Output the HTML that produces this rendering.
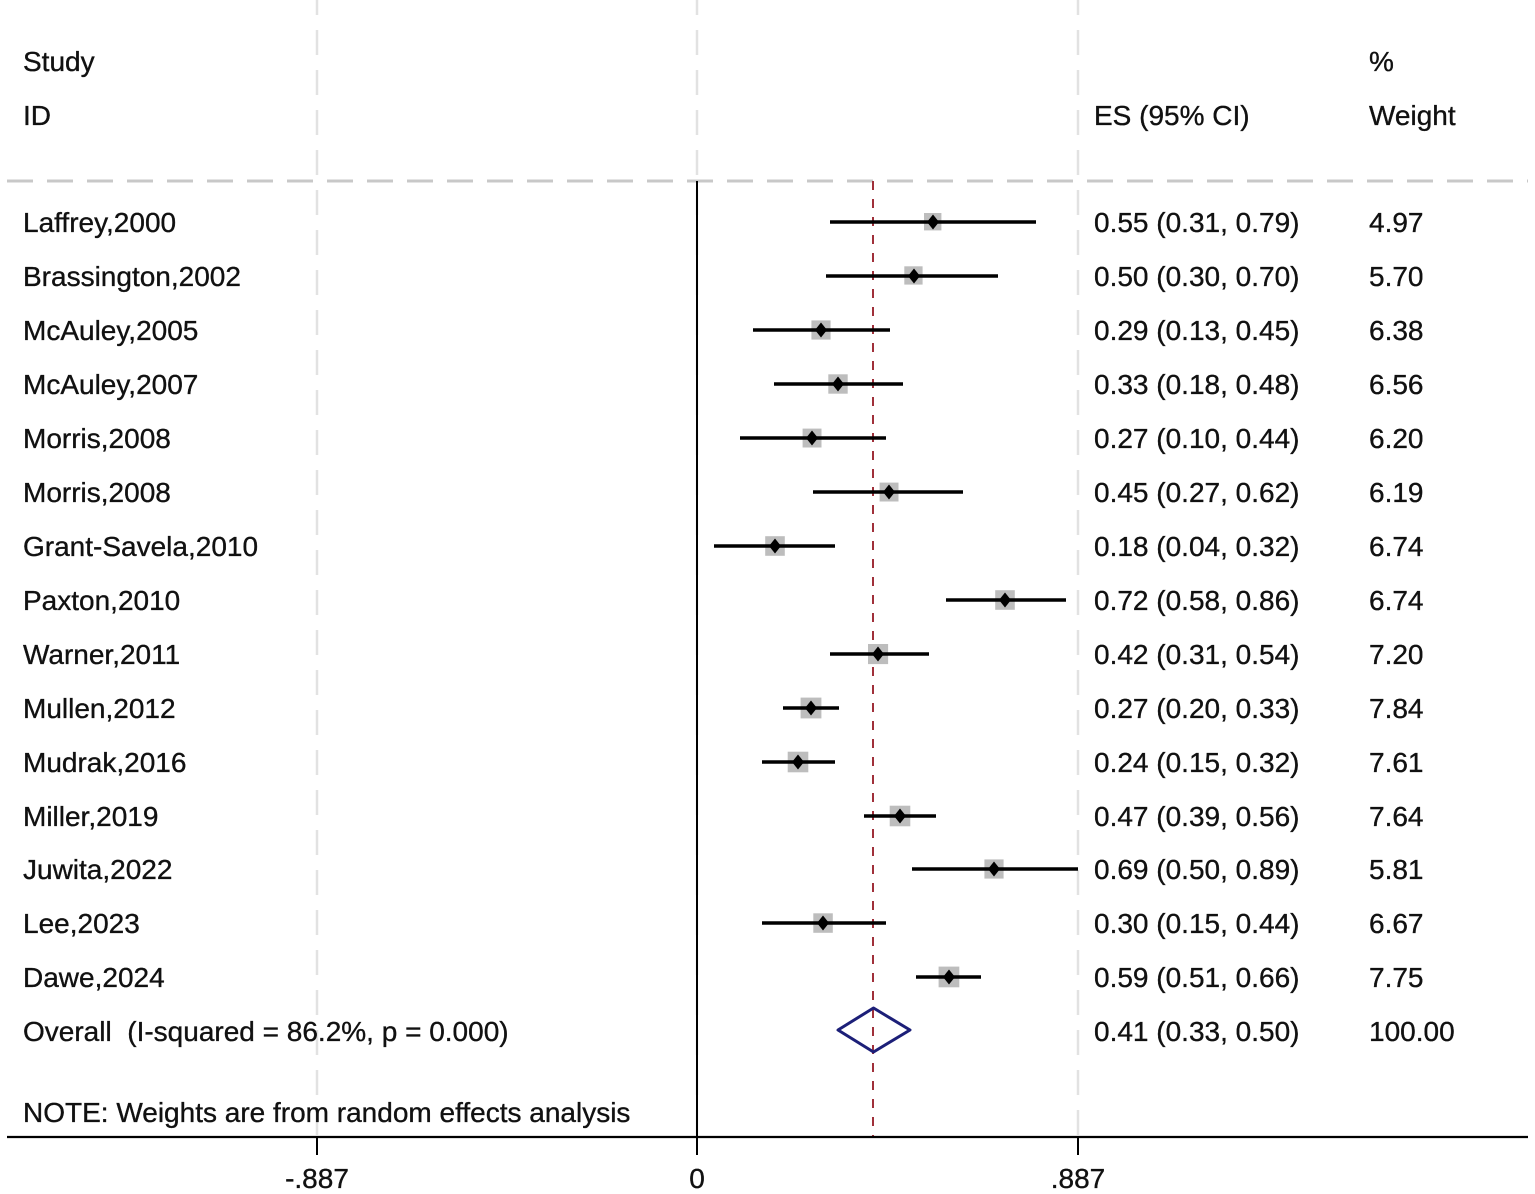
<!DOCTYPE html>
<html>
<head>
<meta charset="utf-8">
<style>
html,body{margin:0;padding:0;background:#fff;}
svg{display:block;}
text{font-family:"Liberation Sans",Arial,sans-serif;font-size:28px;fill:#111;stroke:#111;stroke-width:0.35px;}
</style>
</head>
<body>
<svg width="1535" height="1194" viewBox="0 0 1535 1194" xmlns="http://www.w3.org/2000/svg">
<!-- light gray vertical dashed grid lines -->
<g stroke="#e2e2e2" stroke-width="2.5" stroke-dasharray="25 15" stroke-dashoffset="10">
<line x1="317" y1="0" x2="317" y2="1137"/>
<line x1="697" y1="0" x2="697" y2="1137"/>
<line x1="1078" y1="0" x2="1078" y2="1137"/>
</g>
<!-- header dashed horizontal line -->
<line x1="7" y1="181" x2="1528" y2="181" stroke="#c8c8c8" stroke-width="3" stroke-dasharray="26 14"/>
<!-- solid null line -->
<line x1="697" y1="181" x2="697" y2="1137" stroke="#000" stroke-width="2"/>
<!-- red dashed overall line -->
<line x1="873" y1="181" x2="873" y2="1137" stroke="#a0303a" stroke-width="2" stroke-dasharray="9 9"/>

<!-- headers -->
<text x="23" y="71">Study</text>
<text x="23" y="125">ID</text>
<text x="1094" y="125">ES (95% CI)</text>
<text x="1369" y="71">%</text>
<text x="1369" y="125">Weight</text>

<!-- rows -->
<g id="rows">
<rect x="924" y="213" width="17.4" height="17.4" fill="#bdbdbd"/>
<line x1="830" y1="222" x2="1036" y2="222" stroke="#000" stroke-width="3.5"/>
<polygon points="933,214.5 939,222 933,229.5 927,222" fill="#000"/>
<text x="23" y="232">Laffrey,2000</text><text x="1094" y="232">0.55 (0.31, 0.79)</text><text x="1369" y="232">4.97</text>

<rect x="904.3" y="266.3" width="18.3" height="18.3" fill="#bdbdbd"/>
<line x1="826" y1="276" x2="998" y2="276" stroke="#000" stroke-width="3.5"/>
<polygon points="914,268.5 920,276 914,283.5 908,276" fill="#000"/>
<text x="23" y="286">Brassington,2002</text><text x="1094" y="286">0.50 (0.30, 0.70)</text><text x="1369" y="286">5.70</text>

<rect x="811.4" y="320.4" width="19.2" height="19.2" fill="#bdbdbd"/>
<line x1="753" y1="330" x2="890" y2="330" stroke="#000" stroke-width="3.5"/>
<polygon points="821,322.5 827,330 821,337.5 815,330" fill="#000"/>
<text x="23" y="340">McAuley,2005</text><text x="1094" y="340">0.29 (0.13, 0.45)</text><text x="1369" y="340">6.38</text>

<rect x="828.3" y="374.3" width="19.4" height="19.4" fill="#bdbdbd"/>
<line x1="774" y1="384" x2="903" y2="384" stroke="#000" stroke-width="3.5"/>
<polygon points="838,376.5 844,384 838,391.5 832,384" fill="#000"/>
<text x="23" y="394">McAuley,2007</text><text x="1094" y="394">0.33 (0.18, 0.48)</text><text x="1369" y="394">6.56</text>

<rect x="802.6" y="428.6" width="18.9" height="18.9" fill="#bdbdbd"/>
<line x1="740" y1="438" x2="886" y2="438" stroke="#000" stroke-width="3.5"/>
<polygon points="812,430.5 818,438 812,445.5 806,438" fill="#000"/>
<text x="23" y="448">Morris,2008</text><text x="1094" y="448">0.27 (0.10, 0.44)</text><text x="1369" y="448">6.20</text>

<rect x="879.6" y="482.6" width="18.9" height="18.9" fill="#bdbdbd"/>
<line x1="813" y1="492" x2="963" y2="492" stroke="#000" stroke-width="3.5"/>
<polygon points="889,484.5 895,492 889,499.5 883,492" fill="#000"/>
<text x="23" y="502">Morris,2008</text><text x="1094" y="502">0.45 (0.27, 0.62)</text><text x="1369" y="502">6.19</text>

<rect x="765.2" y="536.2" width="19.6" height="19.6" fill="#bdbdbd"/>
<line x1="714" y1="546" x2="835" y2="546" stroke="#000" stroke-width="3.5"/>
<polygon points="775,538.5 781,546 775,553.5 769,546" fill="#000"/>
<text x="23" y="556">Grant-Savela,2010</text><text x="1094" y="556">0.18 (0.04, 0.32)</text><text x="1369" y="556">6.74</text>

<rect x="995.2" y="590.2" width="19.6" height="19.6" fill="#bdbdbd"/>
<line x1="946" y1="600" x2="1066" y2="600" stroke="#000" stroke-width="3.5"/>
<polygon points="1005,592.5 1011,600 1005,607.5 999,600" fill="#000"/>
<text x="23" y="610">Paxton,2010</text><text x="1094" y="610">0.72 (0.58, 0.86)</text><text x="1369" y="610">6.74</text>

<rect x="868" y="644" width="20.1" height="20.1" fill="#bdbdbd"/>
<line x1="830" y1="654" x2="929" y2="654" stroke="#000" stroke-width="3.5"/>
<polygon points="878,646.5 884,654 878,661.5 872,654" fill="#000"/>
<text x="23" y="664">Warner,2011</text><text x="1094" y="664">0.42 (0.31, 0.54)</text><text x="1369" y="664">7.20</text>

<rect x="800.6" y="697.6" width="20.8" height="20.8" fill="#bdbdbd"/>
<line x1="783" y1="708" x2="839" y2="708" stroke="#000" stroke-width="3.5"/>
<polygon points="811,700.5 817,708 811,715.5 805,708" fill="#000"/>
<text x="23" y="718">Mullen,2012</text><text x="1094" y="718">0.27 (0.20, 0.33)</text><text x="1369" y="718">7.84</text>

<rect x="787.7" y="751.7" width="20.6" height="20.6" fill="#bdbdbd"/>
<line x1="762" y1="762" x2="835" y2="762" stroke="#000" stroke-width="3.5"/>
<polygon points="798,754.5 804,762 798,769.5 792,762" fill="#000"/>
<text x="23" y="772">Mudrak,2016</text><text x="1094" y="772">0.24 (0.15, 0.32)</text><text x="1369" y="772">7.61</text>

<rect x="889.7" y="805.7" width="20.6" height="20.6" fill="#bdbdbd"/>
<line x1="864" y1="816" x2="936" y2="816" stroke="#000" stroke-width="3.5"/>
<polygon points="900,808.5 906,816 900,823.5 894,816" fill="#000"/>
<text x="23" y="826">Miller,2019</text><text x="1094" y="826">0.47 (0.39, 0.56)</text><text x="1369" y="826">7.64</text>

<rect x="984.4" y="859.4" width="19.2" height="19.2" fill="#bdbdbd"/>
<line x1="912" y1="869" x2="1078" y2="869" stroke="#000" stroke-width="3.5"/>
<polygon points="994,861.5 1000,869 994,876.5 988,869" fill="#000"/>
<text x="23" y="879">Juwita,2022</text><text x="1094" y="879">0.69 (0.50, 0.89)</text><text x="1369" y="879">5.81</text>

<rect x="813.3" y="913.3" width="19.5" height="19.5" fill="#bdbdbd"/>
<line x1="762" y1="923" x2="886" y2="923" stroke="#000" stroke-width="3.5"/>
<polygon points="823,915.5 829,923 823,930.5 817,923" fill="#000"/>
<text x="23" y="933">Lee,2023</text><text x="1094" y="933">0.30 (0.15, 0.44)</text><text x="1369" y="933">6.67</text>

<rect x="938.6" y="966.6" width="20.7" height="20.7" fill="#bdbdbd"/>
<line x1="916" y1="977" x2="981" y2="977" stroke="#000" stroke-width="3.5"/>
<polygon points="949,969.5 955,977 949,984.5 943,977" fill="#000"/>
<text x="23" y="987">Dawe,2024</text><text x="1094" y="987">0.59 (0.51, 0.66)</text><text x="1369" y="987">7.75</text>
</g>

<!-- overall -->
<polygon points="838,1030 873.5,1008 910,1030 873.5,1052" fill="none" stroke="#1c1f78" stroke-width="3" stroke-linejoin="round"/>
<text x="23" y="1041" xml:space="preserve">Overall  (I-squared = 86.2%, p = 0.000)</text>
<text x="1094" y="1041">0.41 (0.33, 0.50)</text>
<text x="1369" y="1041">100.00</text>

<text x="23" y="1122">NOTE: Weights are from random effects analysis</text>

<!-- axis -->
<line x1="7" y1="1137" x2="1528" y2="1137" stroke="#000" stroke-width="2.2"/>
<g stroke="#000" stroke-width="2">
<line x1="317" y1="1137" x2="317" y2="1155"/>
<line x1="697" y1="1137" x2="697" y2="1155"/>
<line x1="1078" y1="1137" x2="1078" y2="1155"/>
</g>
<text x="317" y="1188" text-anchor="middle">-.887</text>
<text x="697" y="1188" text-anchor="middle">0</text>
<text x="1078" y="1188" text-anchor="middle">.887</text>
</svg>
</body>
</html>
